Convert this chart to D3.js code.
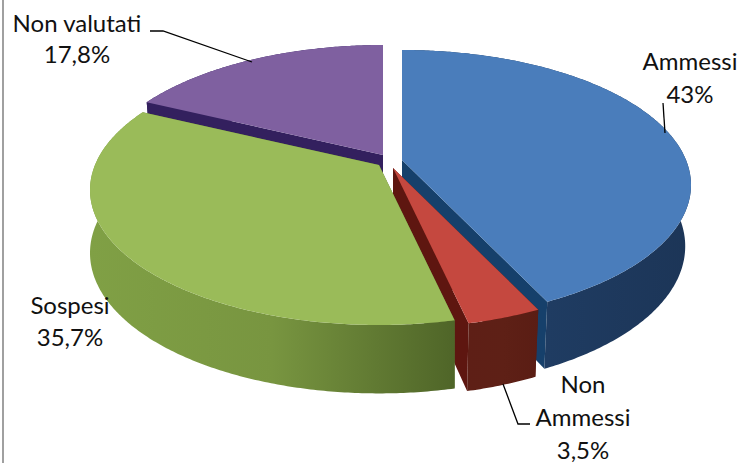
<!DOCTYPE html>
<html>
<head>
<meta charset="utf-8">
<script src="https://cdn.jsdelivr.net/npm/d3@7"></script>
<style>
html,body{margin:0;padding:0;background:#fff;}
svg{display:block;}
text{font-family:Lato,"Open Sans",sans-serif;font-size:24px;fill:#111;text-anchor:middle;}
g.slice{filter:blur(0.5px);}
</style>
</head>
<body>
<div id="chart"></div>
<script>
// Data
const categories = ["Ammessi", "Non Ammessi", "Sospesi", "Non valutati"];
const values = [43, 3.5, 35.7, 17.8];
const valueLabels = ["43%", "3,5%", "35,7%", "17,8%"];

// Styles
const topColors = ["#4a7dbb", "#c5483f", "#9abb59", "#7f60a0"];
const cutColors = ["#16406b", "#5e1610", "#5a7030", "#33205e"];
const wallStops = [
  ["#1d3b60", "#1f3c62", "#1c3557"],
  ["#5e1f16", "#5e2016", "#5a1d14"],
  ["#80a045", "#789540", "#4f6528"],
  ["#33205e", "#33205e", "#33205e"]
];

// Layout
const W = 742, H = 463;
const center = {x: 389, y: 165};
const explodeX = [13, 4, -10, -6];
const explodeY = [-5, 3, 0, -10];
const backDepth = 110, frontDepth = 160, radiusX = 284;
const radiusY = 2 / (1 / backDepth + 1 / frontDepth);
const persp = radiusY / backDepth - 1;
const wallScaleX = [0.98, 0.98, 1.0, 0.98];
const wallScaleY = [1.05, 1.05, 1.04, 1.05];
const wallDrop = [60, 60, 62, 60];

const labelLayout = [
  {x: 690, lines: [[0, 70], [1, 103]]},
  {x: 583, lines: [["Non", 393], ["Ammessi", 426], [1, 459]]},
  {x: 70, lines: [[0, 314], [1, 346]]},
  {x: 77, lines: [[0, 32], [1, 63]]}
];
const leaders = [
  [[663, 103], [665, 133]],
  [[503, 384], [518, 424], [530, 424]],
  [],
  [[150, 31], [163, 31], [252, 62]]
];

const svg = d3.select("#chart").append("svg").attr("width", W).attr("height", H);
svg.append("rect").attr("width", W).attr("height", H).attr("fill", "#fff");
svg.append("line").attr("x1", 3).attr("x2", 3).attr("y1", 0).attr("y2", H)
  .attr("stroke", "#a0a0a0").attr("stroke-width", 2);

const pie = d3.pie().sort(null).value(d => d);
const arcs = pie(values);
const pathLine = d3.line();

function topPoint(theta) {
  const u = Math.sin(theta), v = -Math.cos(theta), w = 1 - persp * v;
  return [radiusX * u / w, radiusY * v / w];
}
const lowerPoint = (p, i) => [p[0] * wallScaleX[i], p[1] * wallScaleY[i] + wallDrop[i]];
function rim(a) {
  const n = Math.max(2, Math.ceil((a.endAngle - a.startAngle) / 0.01));
  return d3.range(n + 1).map(i => topPoint(a.startAngle + (a.endAngle - a.startAngle) * i / n));
}

const defs = svg.append("defs");
arcs.forEach((a, i) => {
  const r = rim(a);
  const xs = d3.extent(r, p => p[0]);
  const g = defs.append("linearGradient").attr("id", "wall" + i)
    .attr("gradientUnits", "userSpaceOnUse")
    .attr("x1", xs[0]).attr("x2", xs[1]).attr("y1", 0).attr("y2", 0);
  wallStops[i].forEach((c, j) => g.append("stop")
    .attr("offset", j / (wallStops[i].length - 1)).attr("stop-color", c));
});

// back-to-front painting
const order = [3, 0, 1, 2];
const slices = svg.selectAll("g.slice").data(order.map(i => ({a: arcs[i], i}))).join("g")
  .attr("class", "slice")
  .attr("transform", d => `translate(${center.x + explodeX[d.i]},${center.y + explodeY[d.i]})`);

slices.each(function (d) {
  const g = d3.select(this), r = rim(d.a), o = [0, 0];
  const rb = r.map(p => lowerPoint(p, d.i)), ob = lowerPoint(o, d.i);
  // cut faces
  [r[0], r[r.length - 1]].forEach((p, k) => {
    const q = k ? rb[rb.length - 1] : rb[0];
    g.append("path").attr("d", pathLine([o, p, q, ob]) + "Z")
      .attr("fill", cutColors[d.i]);
  });
  // outer wall
  g.append("path").attr("d", pathLine(r.concat(rb.slice().reverse())) + "Z")
    .attr("fill", `url(#wall${d.i})`);
  // top face
  g.append("path").attr("d", pathLine([o].concat(r)) + "Z")
    .attr("fill", topColors[d.i]);
});

// Labels
const labels = svg.append("g");
arcs.forEach((a, i) => {
  const L = labelLayout[i];
  L.lines.forEach(([content, y]) => {
    const txt = content === 0 ? categories[i] : content === 1 ? valueLabels[i] : content;
    labels.append("text").attr("x", L.x).attr("y", y).text(txt);
  });
  if (leaders[i].length) {
    svg.append("path").attr("d", pathLine(leaders[i])).attr("fill", "none")
      .attr("stroke", "#000").attr("stroke-width", 1.3);
  }
});
</script>
</body>
</html>
